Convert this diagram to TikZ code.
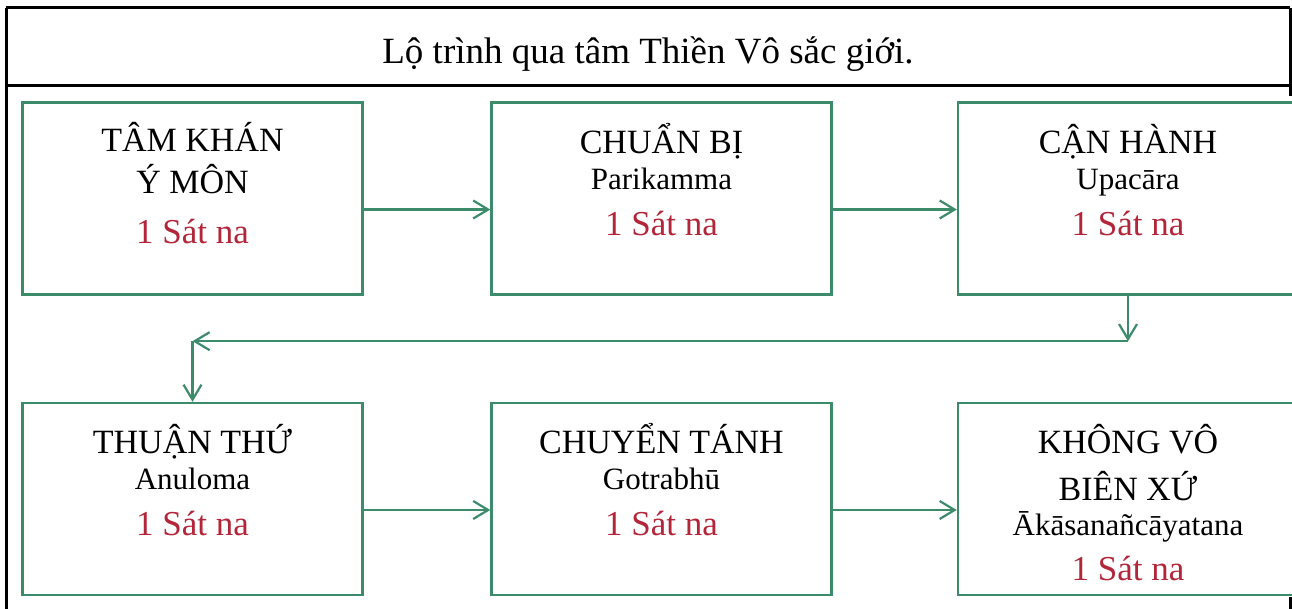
\documentclass[tikz,border=0pt]{standalone}
\usepackage{fontspec}
\setmainfont{Liberation Serif}
\usepackage{tikz}
\usetikzlibrary{arrows.meta, positioning, calc}
\definecolor{flowgreen}{HTML}{3C8C6C}
\definecolor{satred}{HTML}{B3263A}

\begin{document}
\begin{tikzpicture}[x=0.5pt, y=-0.5pt,
  frameline/.style={line width=1.5pt, black},
  stagebox/.style={draw=flowgreen, line width=1.2pt, fill=white, minimum width=170pt, minimum height=96pt, inner sep=0pt},
  stagetext/.style={font=\fontsize{17}{22}\selectfont, align=center, anchor=base, inner sep=0pt},
  flow/.style={draw=flowgreen, line width=1.1pt, -{Straight Barb[length=7.5pt, width=9pt]}}]
\def\pali#1{{\fontsize{15.5}{22}\selectfont #1}}
\def\satna{{\color{satred}\fontsize{17.5}{22}\selectfont 1 Sát na}}
\useasboundingbox (0,0) rectangle (1292,609);
% Outer table frame
\draw[frameline] (6,8) -- (1290,8);
\draw[frameline] (6,8) -- (6,612);
\draw[frameline] (1290,8) -- (1290,612);
\draw[frameline] (6,86) -- (1290,86);
\node[font=\fontsize{18.5}{22}\selectfont, anchor=base] (title) at (648,64) {Lộ trình qua tâm Thiền Vô sắc giới.};
% pasted picture area
\fill[white] (17,96) rectangle (1300,597);

% Row 1 (text anchored on the red last line)
\node[stagebox] (b1) at (192.5,198.5) {};
\node[stagebox] (b2) at (661.5,198.5) {};
\node[stagebox] (b3) at (1128,198.5) {};
\node[stagetext] (t1) at ([yshift=-71pt]b1.north) {TÂM KHÁN\\[-1pt] Ý MÔN\\[3pt] \satna};
\node[stagetext] (t2) at ([yshift=-67pt]b2.north) {CHUẨN BỊ\\[-4pt] \pali{Parikamma}\\[1pt] \satna};
\node[stagetext] (t3) at ([yshift=-67pt]b3.north) {CẬN HÀNH\\[-4pt] \pali{Upacāra}\\[1pt] \satna};

% Row 2
\node[stagebox] (b4) at (192.5,499) {};
\node[stagebox] (b5) at (661.5,499) {};
\node[stagebox] (b6) at (1128,499) {};
\node[stagetext] (t4) at ([yshift=-67pt]b4.north) {THUẬN THỨ\\[-4pt] \pali{Anuloma}\\[1pt] \satna};
\node[stagetext] (t5) at ([yshift=-67pt]b5.north) {CHUYỂN TÁNH\\[-4pt] \pali{Gotrabhū}\\[1pt] \satna};
\node[stagetext] (t6) at ([yshift=-89.5pt]b6.north) {KHÔNG VÔ\\[1.5pt] BIÊN XỨ\\[-4.5pt] \pali{Ākāsanañcāyatana}\\[0.5pt] \satna};

% Arrows
\draw[flow] ([yshift=-5.5pt]b1.east) -- ([yshift=-5.5pt]b2.west);
\draw[flow] ([yshift=-5.5pt]b2.east) -- ([yshift=-5.5pt]b3.west);
\coordinate (bendR) at ([yshift=-22.75pt]b3.south);
\coordinate (bendL) at (bendR -| b4.north);
\draw[flow] (b3.south) -- (bendR);
\draw[flow] (bendR) -- (bendL);
\draw[flow] (bendL) -- (b4.north);
\draw[flow] ([yshift=-5.5pt]b4.east) -- ([yshift=-5.5pt]b5.west);
\draw[flow] ([yshift=-5.5pt]b5.east) -- ([yshift=-5.5pt]b6.west);
\end{tikzpicture}
\end{document}
